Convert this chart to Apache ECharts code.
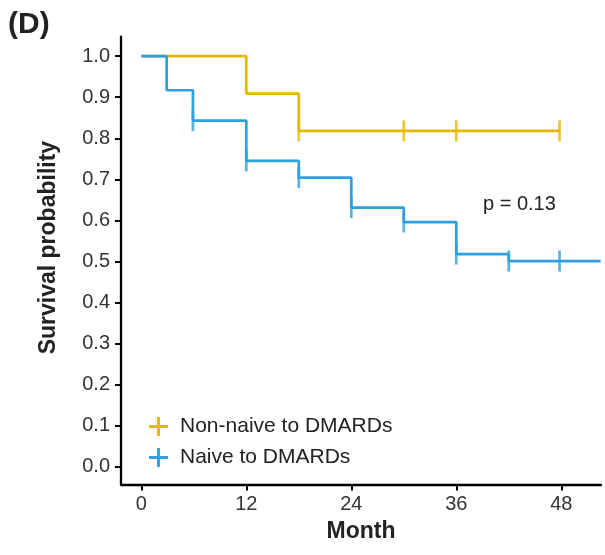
<!DOCTYPE html>
<html>
<head>
<meta charset="utf-8">
<script src="https://cdn.jsdelivr.net/npm/echarts@6/dist/echarts.min.js"></script>
<style>
html,body{margin:0;padding:0;background:#fff;}
#chart{width:605px;height:555px;}
</style>
</head>
<body>
<div id="chart"></div>
<script>
// ---- data ----
var seriesNames = ['Non-naive to DMARDs', 'Naive to DMARDs'];
var nonNaiveTimes = [0, 12, 18, 47.8];
var nonNaiveSurv  = [1.0, 0.909, 0.818, 0.818];
var nonNaiveCensorTimes = [18, 30, 36, 47.8];
var naiveTimes = [0, 2.9, 5.9, 12, 18, 24, 30, 36, 42, 52.5];
var naiveSurv  = [1.0, 0.917, 0.843, 0.745, 0.704, 0.631, 0.596, 0.518, 0.501, 0.501];
var naiveCensorTimes = [5.9, 12, 18, 24, 30, 36, 42, 47.8];
var xTicks = [0, 12, 24, 36, 48];
var yTicks = [0, 0.1, 0.2, 0.3, 0.4, 0.5, 0.6, 0.7, 0.8, 0.9, 1.0];
var pText = 'p = 0.13';

var orange = '#E7B800', blue = '#2E9FDF';
var FONT = '"Liberation Sans", Arial, Helvetica, sans-serif';

function pairs(ts, ss) { return ts.map(function (t, i) { return [t, ss[i]]; }); }
function stepValue(ts, ss, t) {
  var v = ss[0];
  for (var i = 0; i < ts.length; i++) { if (ts[i] <= t) v = ss[i]; }
  return v;
}
function censorPts(cts, ts, ss) { return cts.map(function (t) { return [t, stepValue(ts, ss, t)]; }); }

var plusIcon = 'path://M8.5,0H11.5V8.5H20V11.5H11.5V20H8.5V11.5H0V8.5H8.5Z';

var chart = echarts.init(document.getElementById('chart'), null, {renderer: 'canvas'});
chart.setOption({
  animation: false,
  backgroundColor: '#fff',
  textStyle: {fontFamily: FONT},
  grid: {left: 121, right: 4, top: 36.7, bottom: 70.5, containLabel: false},
  xAxis: {
    type: 'value', min: -2.32, max: 52.54,
    name: 'Month', nameLocation: 'middle', nameGap: 36,
    nameTextStyle: {fontSize: 23, fontWeight: 'bold', color: '#222', fontFamily: FONT},
    axisLine: {show: true, onZero: false, lineStyle: {color: '#000', width: 2.3}},
    axisTick: {show: true, length: 6, lineStyle: {color: '#000', width: 2}, customValues: xTicks},
    axisLabel: {fontSize: 20, color: '#333', margin: 10, fontFamily: FONT, customValues: xTicks,
      formatter: function (v) { return String(v); }},
    splitLine: {show: false}
  },
  yAxis: {
    type: 'value', min: -0.0434, max: 1.0475,
    name: 'Survival probability', nameLocation: 'middle', nameGap: 61,
    nameTextStyle: {fontSize: 23, fontWeight: 'bold', color: '#222', fontFamily: FONT, padding: [0, 0, 0, 26]},
    axisLine: {show: true, onZero: false, lineStyle: {color: '#000', width: 2.3}},
    axisTick: {show: true, length: 6, lineStyle: {color: '#000', width: 2}, customValues: yTicks},
    axisLabel: {fontSize: 20, color: '#333', margin: 11, fontFamily: FONT, customValues: yTicks,
      formatter: function (v) { return v.toFixed(1); }},
    splitLine: {show: false}
  },
  legend: {
    orient: 'vertical', left: 149, top: 416, padding: 0,
    itemWidth: 19, itemHeight: 19, itemGap: 10,
    data: [{name: seriesNames[0], icon: plusIcon}, {name: seriesNames[1], icon: plusIcon}],
    formatter: function (n) { return '{a|' + n + '}'; },
    textStyle: {fontSize: 21, color: '#222', fontFamily: FONT,
      rich: {a: {fontSize: 21, color: '#222', fontFamily: FONT, padding: [0, 0, 0, 7]}}}
  },
  series: [
    {name: seriesNames[0], type: 'line', step: 'end', showSymbol: false, symbol: 'none',
      data: pairs(nonNaiveTimes, nonNaiveSurv), color: orange,
      itemStyle: {color: orange}, lineStyle: {color: orange, width: 2.7}, z: 2},
    {name: seriesNames[1], type: 'line', step: 'end', showSymbol: false, symbol: 'none',
      data: pairs(naiveTimes, naiveSurv), color: blue,
      itemStyle: {color: blue}, lineStyle: {color: blue, width: 2.7}, z: 3},
    {name: seriesNames[0], type: 'scatter', symbol: 'rect', symbolSize: [2.7, 21],
      data: censorPts(nonNaiveCensorTimes, nonNaiveTimes, nonNaiveSurv),
      itemStyle: {color: orange}, z: 2, silent: true},
    {name: seriesNames[1], type: 'scatter', symbol: 'rect', symbolSize: [2.7, 21],
      data: censorPts(naiveCensorTimes, naiveTimes, naiveSurv),
      itemStyle: {color: blue}, z: 3, silent: true}
  ],
  graphic: [
    {type: 'text', left: 8, top: 10, style: {text: '(D)', fontSize: 30, fontWeight: 'bold', fill: '#222', fontFamily: FONT}},
    {type: 'text', x: 483, y: 204, style: {text: pText, fontSize: 20, fill: '#222', fontFamily: FONT, verticalAlign: 'middle', align: 'left'}}
  ]
});
</script>
</body>
</html>
